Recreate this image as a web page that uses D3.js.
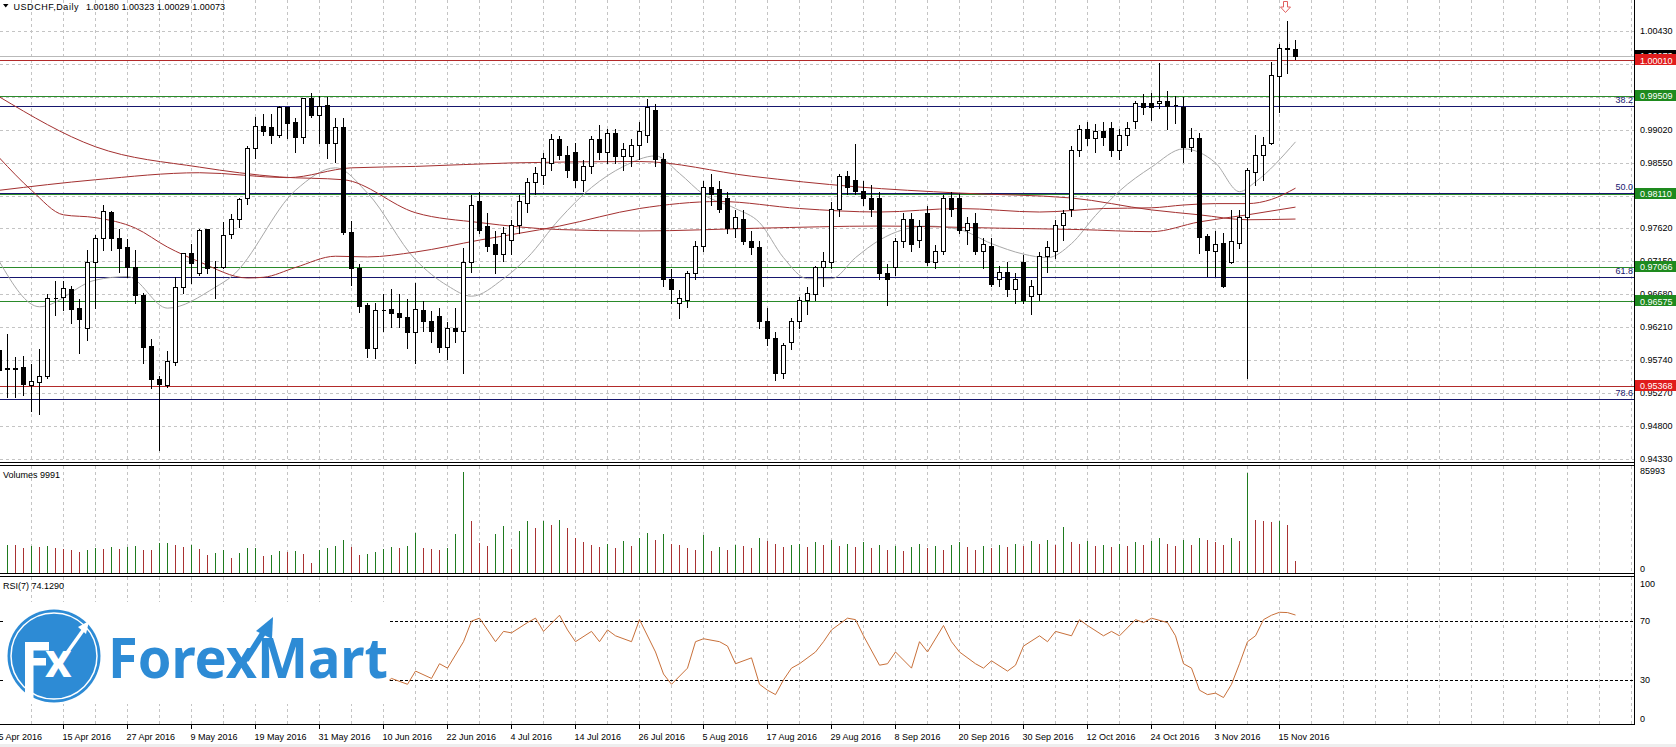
<!DOCTYPE html>
<html><head><meta charset="utf-8">
<script src="https://cdn.jsdelivr.net/npm/d3@7"></script>
<style>
html,body{margin:0;padding:0;background:#fff;overflow:hidden}
svg{display:block}
text{font-family:"Liberation Sans",Arial,sans-serif;font-size:9px;fill:#000}
</style></head><body>
<script>
// ---------------- DATA ----------------
const symbolTitle = "USDCHF,Daily";
const titleValues = "1.00180 1.00323 1.00029 1.00073";
const dateLabels = ["5 Apr 2016","15 Apr 2016","27 Apr 2016","9 May 2016","19 May 2016","31 May 2016","10 Jun 2016","22 Jun 2016","4 Jul 2016","14 Jul 2016","26 Jul 2016","5 Aug 2016","17 Aug 2016","29 Aug 2016","8 Sep 2016","20 Sep 2016","30 Sep 2016","12 Oct 2016","24 Oct 2016","3 Nov 2016","15 Nov 2016"];
const priceTicks = ["1.00430","0.99960","0.99490","0.99020","0.98550","0.98080","0.97620","0.97150","0.96680","0.96210","0.95740","0.95270","0.94800","0.94330"];

const opens = [
.9588,.9562,.9561,.9564,.9539,.9543,.9551,.9662,.9664,.9675,
.9648,.9620,.9714,.9748,.9785,.9748,.9735,.9707,.9667,.9594,
.9547,.9539,.9571,.9678,.9727,.9698,.9761,.9707,.9706,.9754,
.9775,.9805,.9876,.9908,.9906,.9895,.9935,.9913,.9892,.9948,
.9923,.9938,.9883,.9906,.9757,.9705,.9652,.9591,.9645,.9647,
.9641,.9635,.9614,.9645,.9630,.9637,.9592,.9620,.9615,.9714,
.9800,.9765,.9740,.9725,.9745,.9767,.9798,.9828,.9838,.9855,
.9889,.9866,.9870,.9830,.9851,.9889,.9870,.9897,.9865,.9865,
.9880,.9895,.9930,.9860,.9690,.9655,.9660,.9698,.9737,.9821,
.9818,.9805,.9762,.9775,.9744,.9735,.9630,.9605,.9555,.9600,
.9630,.9660,.9668,.9706,.9714,.9790,.9836,.9830,.9815,.9805,
.9805,.9698,.9706,.9744,.9775,.9745,.9783,.9714,.9730,.9805,
.9805,.9760,.9770,.9730,.9737,.9690,.9700,.9676,.9714,.9665,
.9668,.9722,.9730,.9767,.9790,.9874,.9904,.9890,.9900,.9905,
.9874,.9895,.9915,.9940,.9940,.9940,.9943,.9937,.9935,.9878,
.9890,.9751,.9729,.9741,.9714,.9741,.9778,.9842,.9866,.9883,
.9979,1.0018,1.0018];
const highs = [
.9617,.9613,.9580,.9581,.9570,.9591,.9670,.9688,.9688,.9681,
.9662,.9732,.9754,.9796,.9788,.9762,.9748,.9732,.9671,.9605,
.9553,.9588,.9694,.9728,.9741,.9762,.9762,.9717,.9772,.9784,
.9806,.9881,.9922,.9926,.9926,.9938,.9935,.9920,.9949,.9956,
.9952,.9950,.9920,.9920,.9774,.9713,.9657,.9657,.9670,.9677,
.9670,.9662,.9685,.9660,.9645,.9650,.9630,.9650,.9735,.9810,
.9815,.9785,.9760,.9765,.9775,.9810,.9835,.9850,.9870,.9897,
.9895,.9880,.9885,.9860,.9895,.9910,.9905,.9905,.9885,.9890,
.9915,.9947,.9940,.9870,.9705,.9675,.9702,.9745,.9830,.9840,
.9830,.9815,.9790,.9790,.9760,.9745,.9650,.9615,.9600,.9635,
.9665,.9680,.9710,.9730,.9800,.9840,.9845,.9884,.9830,.9825,
.9815,.9712,.9750,.9785,.9785,.9775,.9795,.9740,.9810,.9815,
.9812,.9780,.9785,.9750,.9750,.9710,.9715,.9700,.9725,.9690,
.9730,.9745,.9775,.9790,.9880,.9910,.9915,.9912,.9915,.9915,
.9905,.9915,.9945,.9955,.9956,.9999,.9959,.9952,.9950,.9906,
.9899,.9755,.9759,.9757,.9789,.9789,.9849,.9896,.9893,1.0000,
1.0026,1.0059,1.0032];
const lows = [
.9557,.9521,.9521,.9524,.9501,.9497,.9548,.9638,.9645,.9627,
.9584,.9603,.9648,.9731,.9731,.9700,.9692,.9655,.9570,.9534,
.9446,.9536,.9567,.9670,.9684,.9695,.9698,.9662,.9705,.9748,
.9764,.9796,.9862,.9895,.9883,.9892,.9890,.9871,.9883,.9920,
.9884,.9862,.9856,.9754,.9681,.9642,.9578,.9577,.9616,.9621,
.9621,.9591,.9570,.9615,.9600,.9585,.9575,.9600,.9555,.9700,
.9755,.9730,.9698,.9715,.9725,.9755,.9785,.9810,.9825,.9845,
.9860,.9835,.9820,.9815,.9840,.9860,.9855,.9855,.9845,.9850,
.9860,.9885,.9850,.9680,.9655,.9634,.9650,.9690,.9730,.9795,
.9785,.9755,.9750,.9740,.9725,.9620,.9595,.9545,.9548,.9590,
.9620,.9640,.9660,.9680,.9705,.9780,.9810,.9810,.9795,.9780,
.9690,.9653,.9695,.9735,.9730,.9735,.9710,.9705,.9725,.9780,
.9755,.9740,.9725,.9705,.9680,.9680,.9665,.9655,.9655,.9640,
.9660,.9700,.9720,.9745,.9780,.9865,.9880,.9870,.9880,.9865,
.9860,.9880,.9905,.9925,.9916,.9933,.9903,.9912,.9856,.9872,
.9727,.9694,.9694,.9678,.9713,.9734,.9548,.9824,.9831,.9882,
.9928,.9983,1.0003];
const closes = [
.9560,.9561,.9562,.9540,.9544,.9551,.9662,.9663,.9677,.9647,
.9632,.9714,.9748,.9786,.9748,.9734,.9707,.9667,.9593,.9547,
.9540,.9573,.9678,.9727,.9712,.9759,.9705,.9706,.9752,.9775,
.9804,.9876,.9908,.9900,.9895,.9935,.9912,.9892,.9948,.9923,
.9936,.9883,.9906,.9757,.9705,.9651,.9591,.9645,.9646,.9641,
.9635,.9614,.9647,.9630,.9615,.9592,.9620,.9615,.9714,.9795,
.9760,.9737,.9725,.9755,.9767,.9800,.9828,.9840,.9862,.9889,
.9866,.9845,.9830,.9850,.9889,.9870,.9897,.9865,.9875,.9880,
.9900,.9935,.9860,.9690,.9676,.9662,.9698,.9737,.9821,.9810,
.9790,.9762,.9778,.9744,.9735,.9630,.9605,.9555,.9595,.9630,
.9660,.9670,.9706,.9715,.9790,.9836,.9820,.9815,.9805,.9790,
.9698,.9690,.9744,.9775,.9740,.9765,.9714,.9730,.9805,.9790,
.9760,.9770,.9730,.9740,.9683,.9700,.9676,.9690,.9660,.9680,
.9722,.9735,.9767,.9783,.9874,.9904,.9890,.9900,.9892,.9874,
.9895,.9905,.9940,.9935,.9935,.9943,.9936,.9938,.9878,.9890,
.9749,.9731,.9740,.9680,.9743,.9778,.9845,.9866,.9881,.9980,
1.0019,1.0019,1.0007];
const volumes = [
22000,24000,24000,21100,23100,22000,23100,21100,20300,19700,
18000,19700,21100,20700,22000,20300,22000,23100,19700,19200,
25400,25900,24000,22000,24000,20300,15500,16900,19700,12700,
16900,21100,21200,14700,15500,18900,18300,18900,16100,8500,
19700,21100,23100,28200,22000,15500,16100,17800,20300,22000,
21100,23100,33800,21100,20300,19700,21100,33300,85993,44300,
25400,23100,33300,40000,20300,35800,44300,38100,44300,40900,
45100,38000,30000,26000,24000,22000,25000,21000,27000,23000,
30000,34000,28000,33000,25000,24000,21000,20000,32000,19000,
22000,20000,24000,23000,21000,30000,27000,25000,22000,24000,
25000,22000,26000,24000,28000,23000,25000,22000,26000,21000,
24000,20000,23000,19000,22000,25000,21000,23000,20000,24000,
26000,22000,20000,23000,21000,24000,22000,25000,23000,27000,
25000,28000,24000,39000,26000,25000,27000,23000,24000,22000,
25000,23000,26000,24000,27000,30000,25000,23000,28000,24000,
30000,28000,26000,24000,30000,27000,85000,45000,44000,43500,
44000,41000,9991];
const volumeMax = 85993;
const volumeLast = 9991;

// moving averages read at bar indices: [bar, price]
const maGray = [[0,.9714],[5,.9650],[12,.9688],[16,.9693],[21,.9648],[27,.9678],[29,.9693],[37,.9816],[42,.9848],[46,.9812],[52,.9717],[56,.9680],[59,.9665],[63,.9690],[66,.9720],[70,.9775],[74,.9820],[78,.9850],[82,.9865],[85,.9840],[88,.9810],[92,.9790],[95,.9770],[98,.9720],[101,.9690],[104,.9690],[107,.9720],[110,.9745],[113,.9760],[116,.9765],[120,.9760],[124,.9740],[128,.9725],[131,.9720],[134,.9740],[137,.9780],[140,.9815],[144,.9849],[148,.9875],[152,.9855],[155,.9814],[157,.9828],[162,.9885]];
const ma200 = [[0,.9816],[12,.9831],[25,.9841],[36,.9834],[44,.9848],[52,.9850],[64,.9855],[80,.9857],[94,.9836],[107,.9821],[120,.9812],[134,.9805],[144,.9788],[150,.9781],[156,.9774],[162,.9775]];
const ma100 = [[0,.9949],[12,.9878],[25,.9849],[35,.9835],[43,.9831],[52,.9784],[60,.9770],[70,.9760],[80,.9758],[95,.9762],[110,.9765],[125,.9762],[135,.9760],[144,.9757],[150,.9771],[156,.9781],[162,.9792]];
const ma50 = [[0,.9862],[4,.9816],[8,.9781],[12,.9777],[17,.9762],[21,.9735],[25,.9714],[31,.9691],[33,.9692],[37,.9706],[42,.9722],[46,.9721],[52,.9728],[60,.9745],[70,.9765],[80,.9790],[90,.9800],[100,.9790],[110,.9785],[120,.9790],[130,.9785],[138,.9790],[144,.9791],[148,.9795],[152,.9797],[156,.9797],[159,.9803],[162,.9819]];

// RSI(7) read at bar indices: [bar, value]
const rsi7 = [[47,22],[49,31],[51,27],[52,36],[54,31],[55,41],[56,38],[58,56],[59,70],[60,72],[61,64],[62,56],[63,63],[64,62],[66,69],[67,72],[68,63],[70,74],[71,64],[72,56],[74,63],[75,56],[76,64],[77,60],[79,56],[80,71],[82,49],[83,34],[84,27],[86,38],[87,56],[88,58],[90,56],[91,53],[92,41],[94,45],[95,27],[96,23],[97,20],[98,30],[99,38],[100,41],[102,49],[103,56],[104,64],[106,72],[107,71],[108,60],[110,40],[111,41],[112,49],[114,38],[115,56],[116,49],[118,67],[119,56],[120,49],[122,41],[123,38],[124,43],[126,36],[127,40],[128,53],[130,60],[131,56],[132,63],[134,60],[135,71],[136,67],[138,60],[139,63],[140,60],[142,71],[143,69],[144,72],[146,69],[147,60],[148,41],[149,38],[150,23],[151,20],[152,21],[153,18],[154,27],[155,41],[156,56],[157,60],[158,71],[159,74],[160,76],[161,75.8],[162,74.129]];
const rsiLast = "74.1290";
const rsiLevels = [70, 30];
const rsiTicks = ["100","70","30","0"];

// horizontal levels
const bidPrice = 1.00073;
const redLevels = [1.00010, 0.95368];
const greenLevels = [0.99509, 0.98110, 0.97066, 0.96575];
const fibLevels = [{label:"38.2", price:0.99357},{label:"50.0", price:0.98125},{label:"61.8", price:0.96919},{label:"78.6", price:0.95190}];
const arrowBar = 161;

// ---------------- DRAW ----------------
const W = 1676, H = 747, AX = 1634;
const P = {top:0, bottom:462}, V = {top:466, bottom:573}, R = {top:577, bottom:724};
const svg = d3.select('body').append('svg').attr('width', W).attr('height', H);
const x = d3.scaleLinear().domain([0, 1]).range([-0.5, 7.5]);
const y = d3.scaleLinear().domain([0.9433, 1.0043]).range([459, 31]);
const yv = d3.scaleLinear().domain([0, volumeMax]).range([573, 472]);
const yr = d3.scaleLinear().domain([0, 100]).range([724, 577]);
const snap = v => Math.round(v) + 0.5;

const defs = svg.append('defs');
[['cp',P],['cv',V],['cr',R]].forEach(([id,p]) => defs.append('clipPath').attr('id', id)
  .append('rect').attr('x', 0).attr('y', p.top).attr('width', AX).attr('height', p.bottom - p.top));

const GRID = '#c4c4c4';
const gridIdx = d3.range(0, 205, 4).filter(i => x(i) < AX);
[P, V, R].forEach(p => {
  svg.append('g').attr('shape-rendering','crispEdges').selectAll('line').data(gridIdx).join('line')
    .attr('x1', i => x(i)).attr('x2', i => x(i)).attr('y1', p.top).attr('y2', p.bottom)
    .attr('stroke', GRID).attr('stroke-dasharray', '3,3');
});
svg.append('g').attr('shape-rendering','crispEdges').selectAll('line').data(priceTicks).join('line')
  .attr('x1', 0).attr('x2', AX).attr('y1', d => snap(y(+d))).attr('y2', d => snap(y(+d)))
  .attr('stroke', GRID).attr('stroke-dasharray', '3,3');

const gp = svg.append('g').attr('clip-path', 'url(#cp)');
const hline = (price, color) => gp.append('line').attr('shape-rendering','crispEdges')
  .attr('x1', 0).attr('x2', AX).attr('y1', snap(y(price))).attr('y2', snap(y(price))).attr('stroke', color);
hline(bidPrice, '#b9b9b9');
redLevels.forEach(p => hline(p, '#b22a2a'));
greenLevels.forEach(p => hline(p, '#2a8a2a'));
fibLevels.forEach(f => hline(f.price, '#16166e'));

const maLine = d3.line().x(d => x(d[0])).y(d => y(d[1])).curve(d3.curveMonotoneX);
gp.append('path').attr('d', maLine(maGray)).attr('fill','none').attr('stroke','#a8a8a8').attr('stroke-width',1);
[ma200, ma100, ma50].forEach(m => gp.append('path').attr('d', maLine(m)).attr('fill','none').attr('stroke','#a33030').attr('stroke-width',1));

const idx = d3.range(opens.length);
const gc = gp.append('g').attr('shape-rendering','crispEdges');
gc.selectAll('line').data(idx).join('line')
  .attr('x1', i => x(i)).attr('x2', i => x(i))
  .attr('y1', i => snap(y(highs[i]))).attr('y2', i => snap(y(lows[i])))
  .attr('stroke', '#000');
gc.selectAll('path').data(idx).join('path')
  .attr('d', i => {
    const y1 = snap(y(Math.max(opens[i], closes[i]))), y2 = snap(y(Math.min(opens[i], closes[i])));
    const cx = x(i);
    return `M${cx-2},${y1}H${cx+2}V${y2}H${cx-2}Z`;
  })
  .attr('fill', i => closes[i] >= opens[i] ? '#fff' : '#000')
  .attr('stroke', '#000');

fibLevels.forEach(f => svg.append('text').attr('x', AX - 1).attr('y', y(f.price) - 6).attr('dy', '.35em')
  .attr('text-anchor', 'end').style('fill', '#16166e').text(f.label));

const ax0 = x(arrowBar) - 2;
svg.append('path').attr('d', `M${ax0-2},1.5H${ax0+2}V7H${ax0+5}L${ax0},12.5L${ax0-5},7H${ax0-2}Z`)
  .attr('fill','#fff').attr('stroke','#e06060').attr('stroke-width',1);

// volumes
const gv = svg.append('g').attr('clip-path', 'url(#cv)').attr('shape-rendering','crispEdges');
gv.selectAll('line').data(idx).join('line')
  .attr('x1', i => x(i)).attr('x2', i => x(i))
  .attr('y1', yv(0)).attr('y2', i => Math.round(yv(volumes[i])))
  .attr('stroke', i => (i > 0 && volumes[i] > volumes[i-1]) ? '#1f7a1f' : '#a83232');

// RSI
const gr = svg.append('g').attr('clip-path', 'url(#cr)');
rsiLevels.forEach(l => gr.append('line').attr('shape-rendering','crispEdges')
  .attr('x1', 0).attr('x2', AX).attr('y1', snap(yr(l))).attr('y2', snap(yr(l)))
  .attr('stroke', '#000').attr('stroke-dasharray', '3,2'));
const rsiLine = d3.line().x(d => x(d[0])).y(d => yr(d[1]));
gr.append('path').attr('d', rsiLine(rsi7)).attr('fill','none').attr('stroke','#c8703a').attr('stroke-width',1);

// panel borders
const bl = (x1,y1,x2,y2) => svg.append('line').attr('shape-rendering','crispEdges')
  .attr('x1',x1).attr('y1',y1).attr('x2',x2).attr('y2',y2).attr('stroke','#000');
bl(0, 462.5, AX + 1, 462.5); bl(0, 465.5, AX + 1, 465.5);
bl(0, 573.5, AX + 1, 573.5); bl(0, 576.5, AX + 1, 576.5);
bl(0, 724.5, AX + 1, 724.5);
bl(AX + 0.5, 0, AX + 0.5, 725);

// bottom date axis
const dateIdx = dateLabels.map((d, k) => k * 8);
svg.append('g').attr('shape-rendering','crispEdges').selectAll('line').data(dateIdx).join('line')
  .attr('x1', i => x(i)).attr('x2', i => x(i)).attr('y1', 725).attr('y2', 729).attr('stroke', '#000');
svg.append('g').selectAll('text').data(dateLabels).join('text')
  .attr('x', (d, k) => x(k * 8) - 1).attr('y', 737).attr('dy', '.35em').text(d => d);
svg.append('rect').attr('x', 0).attr('y', 744).attr('width', W).attr('height', 3).attr('fill', '#eeeeee');

// right price axis: tick labels, partly covered by level boxes
const boxes = [{p: bidPrice, fill: '#000'}]
  .concat(redLevels.map(p => ({p, fill: '#e01c1c'})))
  .concat(greenLevels.map(p => ({p, fill: '#1e8a1e'})));
const boxTop = b => Math.round(y(b.p)) - 6, boxBot = b => Math.round(y(b.p)) + 5;
let clipN = 0;
const clippedText = (tx, ty, str, color, cover) => {
  const t = svg.append('text').attr('x', tx).attr('y', ty).attr('dy', '.35em').style('fill', color).text(str);
  if (cover) {
    const id = 'lc' + (clipN++);
    const r = defs.append('clipPath').attr('id', id).append('rect').attr('x', AX).attr('width', W - AX);
    if (ty < y(cover.p)) r.attr('y', 0).attr('height', boxTop(cover)); else r.attr('y', boxBot(cover)).attr('height', H);
    t.attr('clip-path', `url(#${id})`);
  }
};
priceTicks.forEach(t => {
  const ty = y(+t);
  const near = boxes.reduce((a, b) => Math.abs(y(b.p) - ty) < Math.abs(y(a.p) - ty) ? b : a);
  const d = Math.abs(y(near.p) - ty);
  if (d < 5) return;
  clippedText(1640, ty, t, '#000', d < 12 ? near : null);
});
boxes.forEach((b, k) => {
  svg.append('rect').attr('x', AX + 1).attr('y', boxTop(b)).attr('width', W - AX).attr('height', 11).attr('fill', b.fill);
  const over = boxes.slice(k + 1).find(o => Math.abs(y(o.p) - y(b.p)) < 11);
  clippedText(1640, y(b.p), b.p.toFixed(5), '#fff', over || null);
});

// volume & rsi axis labels
svg.append('text').attr('x', 1640).attr('y', 471).attr('dy', '.35em').text(String(volumeMax));
svg.append('text').attr('x', 1640).attr('y', 569).attr('dy', '.35em').text('0');
[[rsiTicks[0],584],[rsiTicks[1],yr(70)],[rsiTicks[2],yr(30)],[rsiTicks[3],719]].forEach(([t, yy]) =>
  svg.append('text').attr('x', 1640).attr('y', yy).attr('dy', '.35em').text(t));

// titles
svg.append('path').attr('d', 'M3,4L8.5,4L5.75,7.5Z').attr('fill', '#000');
svg.append('text').attr('x', 13.5).attr('y', 6.5).attr('dy', '.35em').attr('textLength', 65).text(symbolTitle);
svg.append('text').attr('x', 86).attr('y', 6.5).attr('dy', '.35em').attr('textLength', 139).text(titleValues);
svg.append('text').attr('x', 3).attr('y', 475).attr('dy', '.35em').text('Volumes ' + volumeLast);
svg.append('text').attr('x', 3).attr('y', 586).attr('dy', '.35em').text('RSI(7) ' + rsiLast);

// logo
const BLUE = '#2d8bd5';
const lg = svg.append('g');
lg.append('rect').attr('x', 4).attr('y', 602).attr('width', 385).attr('height', 102).attr('fill', '#fff');
lg.append('circle').attr('cx', 54).attr('cy', 656).attr('r', 46.5).attr('fill', BLUE);
lg.append('circle').attr('cx', 54).attr('cy', 656).attr('r', 43).attr('fill', 'none').attr('stroke', '#fff').attr('stroke-width', 1.5);
lg.append('path').attr('d', 'M25,642H49V650.5H33.5V658H46V665.5H33.5V698.5H25Z').attr('fill', '#fff');
lg.append('text').attr('x', 45).attr('y', 677).style('font-family', '"Noto Sans",sans-serif').style('font-weight', 'bold')
  .style('font-size', '46px').style('fill', '#fff').text('x');
lg.append('line').attr('x1', 64).attr('y1', 657).attr('x2', 84).attr('y2', 629).attr('stroke', '#fff').attr('stroke-width', 3.5);
lg.append('path').attr('d', 'M89,621L78,627L86,634Z').attr('fill', '#fff');
lg.append('text').attr('x', 108).attr('y', 678).attr('textLength', 280).attr('lengthAdjust', 'spacingAndGlyphs')
  .style('font-family', '"Noto Sans","Open Sans",sans-serif').style('font-weight', 'bold')
  .style('font-size', '56px').style('fill', BLUE).text('ForexMart');
lg.append('line').attr('x1', 246).attr('y1', 660).attr('x2', 265).attr('y2', 630).attr('stroke', BLUE).attr('stroke-width', 6);
lg.append('path').attr('d', 'M273,617L256,631L272,639Z').attr('fill', BLUE);
</script>
</body></html>
